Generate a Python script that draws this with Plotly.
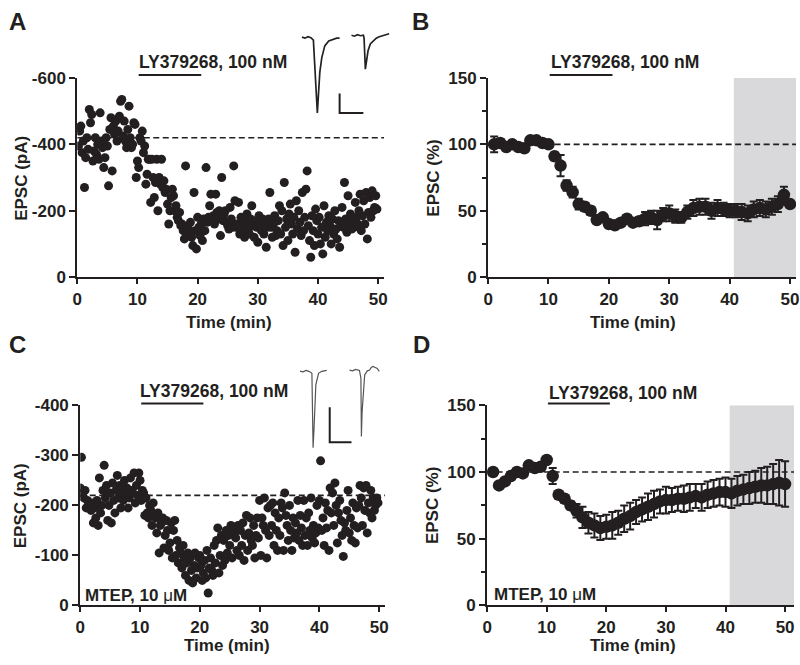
import plotly.graph_objects as go

# ---------------- DATA ----------------
# Panel A: single-cell EPSC amplitude (pA), sampled every 0.2 min
a_step = 0.2
a_vals = [
    450, 395, 440, 455, 375, 410, 270, 360, 420, 385,
    505, 465, 490, 350, 380, 420, 370, 400, 355, 495,
    410, 390, 330, 360, 420, 395, 275, 445, 480, 320,
    455, 430, 470, 410, 440, 485, 530, 535, 425, 470,
    410, 390, 445, 515, 420, 390, 400, 465, 460, 300,
    350, 330, 420, 410, 440, 375, 395, 280, 310, 355,
    355, 225, 355, 300, 240, 285, 355, 200, 300, 280,
    355, 270, 290, 255, 265, 220, 160, 200, 240, 265,
    245, 200, 215, 180, 170, 195, 155, 160, 140, 115,
    335, 140, 150, 130, 165, 120, 95, 255, 140, 85,
    180, 150, 125, 160, 110, 175, 140, 330, 165, 180,
    215, 250, 170, 185, 160, 250, 195, 175, 200, 125,
    300, 170, 190, 200, 165, 155, 145, 210, 175, 150,
    335, 230, 150, 160, 225, 130, 180, 145, 170, 120,
    160, 190, 140, 130, 175, 215, 155, 120, 170, 150,
    105, 185, 160, 140, 175, 130, 165, 90, 150, 175,
    255, 150, 120, 160, 185, 125, 140, 170, 215, 130,
    200, 95, 285, 150, 175, 110, 190, 220, 160, 130,
    180, 75, 230, 145, 200, 165, 125, 255, 140, 180,
    265, 320, 155, 110, 60, 185, 140, 95, 205, 170,
    130, 180, 100, 150, 70, 215, 120, 165, 140, 185,
    155, 100, 175, 130, 200, 145, 115, 170, 90, 160,
    210, 150, 285, 175, 135, 245, 160, 190, 145, 170,
    150, 225, 180, 160, 200, 250, 140, 185, 230, 160,
    255, 115, 195, 240, 180, 260, 200, 210, 245, 205,
]
a_time = [round(i * a_step, 2) for i in range(len(a_vals))]
a_epsc = [-v for v in a_vals]
a_baseline = -420

# Panel C: single-cell EPSC amplitude (pA) in MTEP
c_vals = [
    235, 296, 225, 215, 230, 195, 210, 200, 205, 190,
    205, 165, 195, 175, 210, 160, 255, 185, 200, 230,
    280, 215, 240, 170, 200, 225, 165, 245, 210, 185,
    230, 260, 215, 240, 195, 225, 210, 250, 220, 235,
    195, 215, 255, 230, 225, 265, 205, 240, 220, 265,
    250, 210, 230, 225, 180, 215, 185, 175, 200, 190,
    160, 205, 180, 175, 145, 185, 105, 160, 165, 175,
    115, 140, 170, 150, 110, 125, 165, 95, 150, 170,
    100, 130, 85, 115, 105, 75, 120, 95, 60, 85,
    105, 50, 95, 70, 45, 80, 105, 55, 75, 95,
    100, 80, 50, 65, 90, 55, 110, 25, 75, 95,
    70, 60, 120, 85, 130, 155, 65, 100, 140, 80,
    130, 90, 150, 105, 140, 120, 160, 95, 155, 145,
    135, 110, 160, 100, 150, 120, 165, 90, 140, 180,
    110, 145, 175, 130, 120, 160, 95, 140, 175, 135,
    210, 100, 175, 160, 215, 150, 95, 195, 140, 200,
    160, 205, 120, 185, 150, 110, 175, 140, 205, 195,
    110, 225, 180, 160, 130, 200, 150, 110, 175, 135,
    165, 145, 210, 130, 180, 155, 120, 210, 140, 175,
    120, 185, 150, 215, 135, 160, 125, 145, 200, 155,
    210, 289, 150, 175, 120, 205, 155, 190, 110, 235,
    185, 225, 160, 245, 200, 125, 185, 210, 170, 140,
    98, 165, 150, 190, 230, 145, 175, 130, 205, 160,
    125, 195, 155, 200, 240, 215, 160, 235, 190, 240,
    145, 205, 185, 230, 175, 215, 190, 200, 215, 205,
]
c_time = [round(i * a_step, 2) for i in range(len(c_vals))]
c_epsc = [-v for v in c_vals]
c_baseline = -220

# Panel B: normalized EPSC (%), mean +/- SEM, 1-min bins
b_time = list(range(1, 51))
b_mean = [100, 101, 98, 100, 98, 97, 103, 103, 101, 100,
          91, 84, 69, 64, 55, 53, 50, 43, 45, 40,
          39, 41, 44, 41, 42, 44, 45, 43, 47, 48,
          46, 45, 49, 52, 53, 53, 50, 52, 51, 50,
          50, 49, 48, 51, 52, 51, 53, 55, 62, 55]
b_sem = [6, 3, 2, 2, 2, 2, 2, 2, 2, 2,
         3, 8, 4, 4, 4, 3, 3, 2, 2, 2,
         2, 2, 2, 2, 3, 5, 5, 7, 5, 6,
         5, 4, 5, 6, 6, 6, 6, 6, 5, 5,
         5, 6, 6, 6, 6, 6, 6, 6, 6, 3]

# Panel D: normalized EPSC (%) in MTEP, mean +/- SEM
d_time = list(range(1, 51))
d_mean = [100, 90, 93, 97, 100, 99, 105, 103, 104, 109,
          97, 83, 80, 75, 71, 66, 62, 60, 58, 59,
          60, 62, 65, 67, 70, 72, 74, 76, 78, 79,
          79, 80, 80, 81, 82, 81, 83, 84, 85, 85,
          84, 86, 87, 88, 89, 90, 90, 91, 92, 91]
d_sem = [1, 1, 1, 1, 1, 1, 1, 1, 1, 1,
         6, 2, 2, 3, 5, 8, 8, 9, 9, 9,
         10, 9, 10, 10, 9, 9, 10, 10, 9, 10,
         9, 9, 10, 10, 9, 10, 10, 10, 10, 11,
         11, 11, 11, 12, 12, 13, 14, 15, 17, 17]

# Drug application window (min) and analysis window (min)
drug_start, drug_end = 10.2, 20.6
analysis_start = 40.7

# Example traces (inset units: ms, pA)
a_tr1_t = [10, 13, 16, 19, 21.5, 23, 24.5, 25.5, 26.5, 28, 30, 33, 37, 42, 45, 48]
a_tr1_i = [-9, -10, -8.5, -9.5, -12, -40, -75, -87, -70, -45, -30, -18, -13, -11, -10, -10]
a_tr2_t = [60, 63, 66, 69, 72, 72.7, 73.5, 74, 75, 76.7, 79, 81.7, 85, 88, 93, 98]
a_tr2_i = [-7, -8, -6.5, -7.5, -7, -10, -30, -42, -35, -23, -16, -13, -10, -8.5, -7, -5.5]
a_scale_t = [48, 48, 72]
a_scale_i = [-67, -87, -87]

c_tr1_t = [8, 11, 14, 17, 20, 20.7, 21.2, 22, 22.7, 24, 26.7, 30, 35]
c_tr1_i = [-17.7, -18.5, -17, -18, -20, -60, -96.7, -80, -58, -31.7, -20, -18, -17]
c_tr2_t = [58, 61, 64, 68, 69.5, 70, 70.7, 71.7, 73.3, 76, 78.3, 80, 81.7, 84, 86, 88]
c_tr2_i = [-16.7, -17.5, -16, -17, -25, -85, -60, -41.7, -21.7, -17.5, -16.7, -14, -13, -14, -15, -18]
c_scale_t = [38, 38, 60]
c_scale_i = [-55, -91, -91]

# ---------------- FIGURE ----------------
W, H = 800, 665
def X(px):
    return px / W
def Y(py):
    return 1 - py / H

FONT = "Liberation Sans, Arial, Helvetica, sans-serif"
INK = "#231f20"
FS = 17

fig = go.Figure()

fig.add_trace(go.Scatter(x=a_time, y=a_epsc, mode="markers", xaxis="x", yaxis="y",
                         marker=dict(size=9, color=INK), showlegend=False))
fig.add_trace(go.Scatter(x=b_time, y=b_mean, mode="markers", xaxis="x2", yaxis="y2",
                         marker=dict(size=12.5, color=INK),
                         error_y=dict(type="data", array=b_sem, color=INK, thickness=2, width=4),
                         showlegend=False))
fig.add_trace(go.Scatter(x=c_time, y=c_epsc, mode="markers", xaxis="x3", yaxis="y3",
                         marker=dict(size=9, color=INK), showlegend=False))
fig.add_trace(go.Scatter(x=d_time, y=d_mean, mode="markers", xaxis="x4", yaxis="y4",
                         marker=dict(size=12.5, color=INK),
                         error_y=dict(type="data", array=d_sem, color=INK, thickness=2, width=4),
                         showlegend=False))

for tx, ty, w, col, ax in [
    (a_tr1_t, a_tr1_i, 1.7, "#222", "5"), (a_tr2_t, a_tr2_i, 1.7, "#222", "5"),
    (a_scale_t, a_scale_i, 2, INK, "5"),
    (c_tr1_t, c_tr1_i, 1.2, "#555", "6"), (c_tr2_t, c_tr2_i, 1.2, "#555", "6"),
    (c_scale_t, c_scale_i, 2, INK, "6"),
]:
    fig.add_trace(go.Scatter(x=tx, y=ty, mode="lines", xaxis="x" + ax, yaxis="y" + ax,
                             line=dict(color=col, width=w), showlegend=False, hoverinfo="skip"))

tickfont = dict(family=FONT, size=FS, color=INK, weight=700)

def xax(domain, anchor, rng):
    return dict(domain=domain, anchor=anchor, range=rng, tickvals=[0, 10, 20, 30, 40, 50],
                showline=True, linewidth=2, linecolor=INK, ticks="outside", ticklen=5,
                tickwidth=2, tickcolor=INK, showgrid=False, zeroline=False,
                tickfont=tickfont, fixedrange=True)

def yax(domain, anchor, rng, vals, texts, minor=None):
    d = dict(domain=domain, anchor=anchor, range=rng, tickvals=vals, ticktext=texts,
             showline=True, linewidth=2, linecolor=INK, ticks="outside", ticklen=6,
             tickwidth=2, tickcolor=INK, showgrid=False, zeroline=False,
             tickfont=tickfont, fixedrange=True)
    if minor is not None:
        d["minor"] = dict(tickvals=minor, ticks="outside", ticklen=4, tickwidth=1.5,
                          tickcolor=INK, showgrid=False)
    return d

top_y = [Y(276), Y(71)]
bot_y = [Y(614), Y(408)]

layout_axes = dict(
    xaxis=xax([X(73), X(383)], "y", [0, 51]),
    yaxis=yax(top_y, "x", [0, -600], [0, -200, -400, -600], ["0", "-200", "-400", "-600"]),
    xaxis2=xax([X(488), X(799)], "y2", [0, 51]),
    yaxis2=yax(top_y, "x2", [0, 150], [0, 50, 100, 150], ["0", "50", "100", "150"], [25, 75, 125]),
    xaxis3=xax([X(76), X(384)], "y3", [0, 51]),
    yaxis3=yax(bot_y, "x3", [0, -400], [0, -100, -200, -300, -400],
               ["0", "-100", "-200", "-300", "-400"]),
    xaxis4=xax([X(487), X(797)], "y4", [0, 51.5]),
    yaxis4=yax(bot_y, "x4", [0, 150], [0, 50, 100, 150], ["0", "50", "100", "150"], [25, 75, 125]),
    xaxis5=dict(domain=[X(290), X(395)], anchor="y5", range=[0, 105], visible=False, fixedrange=True),
    yaxis5=dict(domain=[Y(115), Y(10)], anchor="x5", range=[-95, 10], visible=False, fixedrange=True),
    xaxis6=dict(domain=[X(290), X(395)], anchor="y6", range=[0, 105], visible=False, fixedrange=True),
    yaxis6=dict(domain=[Y(460), Y(355)], anchor="x6", range=[-105, 0], visible=False, fixedrange=True),
)

shapes = []
shapes.append(dict(type="rect", xref="x2", yref="y2", x0=analysis_start, x1=51, y0=0, y1=150,
                   fillcolor="#d9d9db", line=dict(width=0), layer="below"))
shapes.append(dict(type="rect", xref="x4", yref="y4", x0=analysis_start, x1=51.5, y0=0, y1=150,
                   fillcolor="#d9d9db", line=dict(width=0), layer="below"))
for xr, yr, yv, x1 in [("x", "y", a_baseline, 51), ("x2", "y2", 100, 51),
                       ("x3", "y3", c_baseline, 51), ("x4", "y4", 100, 51.5)]:
    shapes.append(dict(type="line", xref=xr, yref=yr, x0=0, x1=x1, y0=yv, y1=yv,
                       line=dict(color=INK, width=1.6, dash="6px,3.5px")))
for xr, py in [("x", 68), ("x2", 68), ("x3", 406), ("x4", 406)]:
    shapes.append(dict(type="line", xref=xr, yref="paper", x0=drug_start, x1=drug_end,
                       y0=Y(py), y1=Y(py), line=dict(color=INK, width=2)))

ann = []
def txt(s, px, py, size=FS, xanchor="center", yanchor="middle", angle=0):
    ann.append(dict(text=s, x=X(px), y=Y(py), xref="paper", yref="paper", showarrow=False,
                    xanchor=xanchor, yanchor=yanchor, textangle=angle, borderpad=0,
                    font=dict(family=FONT, size=size, color=INK, weight=700)))

for lab, px, py in [("A", 13, 13), ("B", 420, 13), ("C", 13, 345), ("D", 421, 345)]:
    txt(lab, px, py, size=24)

txt("LY379268, 100 nM", 134, 55, size=17.5, xanchor="left")
txt("LY379268, 100 nM", 550, 55, size=17.5, xanchor="left")
txt("LY379268, 100 nM", 135, 393, size=17.5, xanchor="left")
txt("LY379268, 100 nM", 548, 395, size=17.5, xanchor="left")
txt("MTEP, 10 <span style='font-weight:normal'>μ</span>M", 80, 604, xanchor="left")
txt("MTEP, 10 <span style='font-weight:normal'>μ</span>M", 493, 603, xanchor="left")

txt("EPSC (pA)", 16, 174, angle=-90)
txt("EPSC (%)", 432, 174, angle=-90)
txt("EPSC (pA)", 16, 511, angle=-90)
txt("EPSC (%)", 432, 511, angle=-90)
txt("Time (min)", 226, 323)
txt("Time (min)", 634, 323)
txt("Time (min)", 224, 655)
txt("Time (min)", 634, 655)

fig.update_layout(
    width=W, height=H, margin=dict(l=0, r=0, t=0, b=0),
    paper_bgcolor="white", plot_bgcolor="rgba(0,0,0,0)",
    showlegend=False, shapes=shapes, annotations=ann,
    font=dict(family=FONT, color=INK),
    **layout_axes,
)

fig.write_html("out.html", config={"displayModeBar": False},
               post_script="document.body.style.margin='0';document.body.style.padding='0';document.body.style.overflow='hidden';")
